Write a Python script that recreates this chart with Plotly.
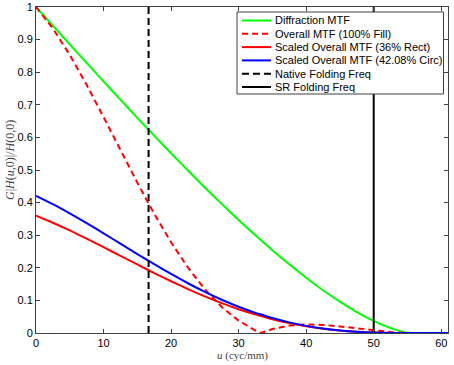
import plotly.graph_objects as go

# Spatial frequency samples (cyc/mm)
u = [0, 2.5, 5, 7.5, 10, 12.5, 15, 17.5, 20, 22.5, 25, 27.5, 30, 32.5, 33.33,
     35, 37.5, 40, 42.5, 45, 47.5, 50, 52.5, 55, 55.5, 61]

diffraction = [1.0, 0.9427, 0.8855, 0.8285, 0.7718, 0.7157, 0.6601, 0.6053, 0.5513,
               0.4983, 0.4465, 0.3960, 0.3469, 0.2995, 0.2842, 0.2540, 0.2106, 0.1696,
               0.1312, 0.0960, 0.0643, 0.0369, 0.0150, 0.0010, 0.0, 0.0]

overall = [1.0, 0.9340, 0.8531, 0.7612, 0.6625, 0.5613, 0.4612, 0.3659, 0.2782,
           0.2004, 0.1340, 0.0798, 0.0379, 0.0077, 0.0, 0.0120, 0.0228, 0.0264,
           0.0249, 0.0202, 0.0140, 0.0078, 0.0029, 0.0002, 0.0, 0.0]

scaled_rect = [0.36, 0.3382, 0.3146, 0.2894, 0.2633, 0.2367, 0.2102, 0.1840, 0.1588,
               0.1348, 0.1123, 0.0917, 0.0730, 0.0566, 0.0520, 0.0424, 0.0305, 0.0208,
               0.0132, 0.0076, 0.0038, 0.0015, 0.0003, 0.0, 0.0, 0.0]

scaled_circ = [0.4208, 0.3952, 0.3671, 0.3371, 0.3058, 0.2740, 0.2422, 0.2110, 0.1810,
               0.1526, 0.1262, 0.1021, 0.0805, 0.0617, 0.0565, 0.0458, 0.0325, 0.0219,
               0.0137, 0.0078, 0.0038, 0.0014, 0.0003, 0.0, 0.0, 0.0]

native_fold = 16.67
sr_fold = 50.0

names = ["Diffraction MTF", "Overall MTF (100% Fill)", "Scaled Overall MTF (36% Rect)",
         "Scaled Overall MTF (42.08% Circ)", "Native Folding Freq", "SR Folding Freq"]

x_ticks = [0, 10, 20, 30, 40, 50, 60]
y_ticks = [0, 0.1, 0.2, 0.3, 0.4, 0.5, 0.6, 0.7, 0.8, 0.9, 1]
y_tick_text = ["0", "0.1", "0.2", "0.3", "0.4", "0.5", "0.6", "0.7", "0.8", "0.9", "1"]

W, H = 454, 365
ML, MR, MT, MB = 36, 6, 7, 32
PW, PH = W - ML - MR, H - MT - MB


def px(xp):
    return (xp - ML) / PW


def py(yp):
    return (H - MB - yp) / PH


styles = [
    dict(color="#00ff00", width=2),
    dict(color="#ff0000", width=2, dash="6px,4px"),
    dict(color="#ff0000", width=2),
    dict(color="#0000ff", width=2),
    dict(color="black", width=2, dash="7px,4px"),
    dict(color="black", width=2),
]

fig = go.Figure()
fig.add_trace(go.Scatter(x=u, y=diffraction, mode="lines", name=names[0],
                         line=dict(shape="spline", smoothing=0.6, **styles[0])))
fig.add_trace(go.Scatter(x=u, y=overall, mode="lines", name=names[1], line=styles[1]))
fig.add_trace(go.Scatter(x=u, y=scaled_rect, mode="lines", name=names[2],
                         line=dict(shape="spline", smoothing=0.6, **styles[2])))
fig.add_trace(go.Scatter(x=u, y=scaled_circ, mode="lines", name=names[3],
                         line=dict(shape="spline", smoothing=0.6, **styles[3])))
fig.add_trace(go.Scatter(x=[native_fold, native_fold], y=[0, 1], mode="lines", name=names[4],
                         line=styles[4]))
fig.add_trace(go.Scatter(x=[sr_fold, sr_fold], y=[0, 1], mode="lines", name=names[5],
                         line=styles[5]))

# Manual legend (compact, MATLAB-style)
shapes = [dict(type="rect", xref="paper", yref="paper", x0=px(237), x1=px(443.5),
               y0=py(94), y1=py(12), line=dict(color="#404040", width=1),
               fillcolor="white", layer="above")]
annotations = []
for i, nm in enumerate(names):
    yc = 20.5 + 13.3 * i
    shapes.append(dict(type="line", xref="paper", yref="paper", x0=px(242), x1=px(271),
                       y0=py(yc), y1=py(yc), line=styles[i], layer="above"))
    annotations.append(dict(text=nm, xref="paper", yref="paper", x=px(273), y=py(yc),
                            xanchor="left", yanchor="middle", showarrow=False,
                            font=dict(family="Liberation Sans, Arial", size=11, color="black")))

# Axis titles
annotations.append(dict(text="<i>u</i> (cyc/mm)", xref="paper", yref="paper", x=0.5, y=py(355),
                        xanchor="center", yanchor="middle", showarrow=False,
                        font=dict(family="Liberation Serif, Times New Roman", size=11, color="#444444")))
annotations.append(dict(text="<i>G</i>|<i>H</i>(<i>u</i>,0)|/<i>H</i>(0,0)", xref="paper", yref="paper",
                        x=px(10), y=py(160), xanchor="center", yanchor="middle", textangle=-90,
                        showarrow=False,
                        font=dict(family="Liberation Serif, Times New Roman", size=12, color="#444444")))

axis_common = dict(showgrid=False, zeroline=False, showline=True, linecolor="#404040",
                   linewidth=1, mirror="ticks", ticks="inside", ticklen=4, automargin=False,
                   tickcolor="#404040", tickfont=dict(family="Liberation Sans, Arial",
                                                      size=11, color="black"))

fig.update_layout(
    width=W, height=H,
    margin=dict(l=ML, r=MR, t=MT, b=MB),
    paper_bgcolor="white", plot_bgcolor="white",
    showlegend=False,
    shapes=shapes,
    annotations=annotations,
    xaxis=dict(range=[0, 61], tickvals=x_ticks, **axis_common),
    yaxis=dict(range=[0, 1], tickvals=y_ticks, ticktext=y_tick_text, **axis_common),
)

fig.write_html("out.html", config={"displayModeBar": False},
               post_script="document.body.style.margin='0';document.body.style.padding='0';")
